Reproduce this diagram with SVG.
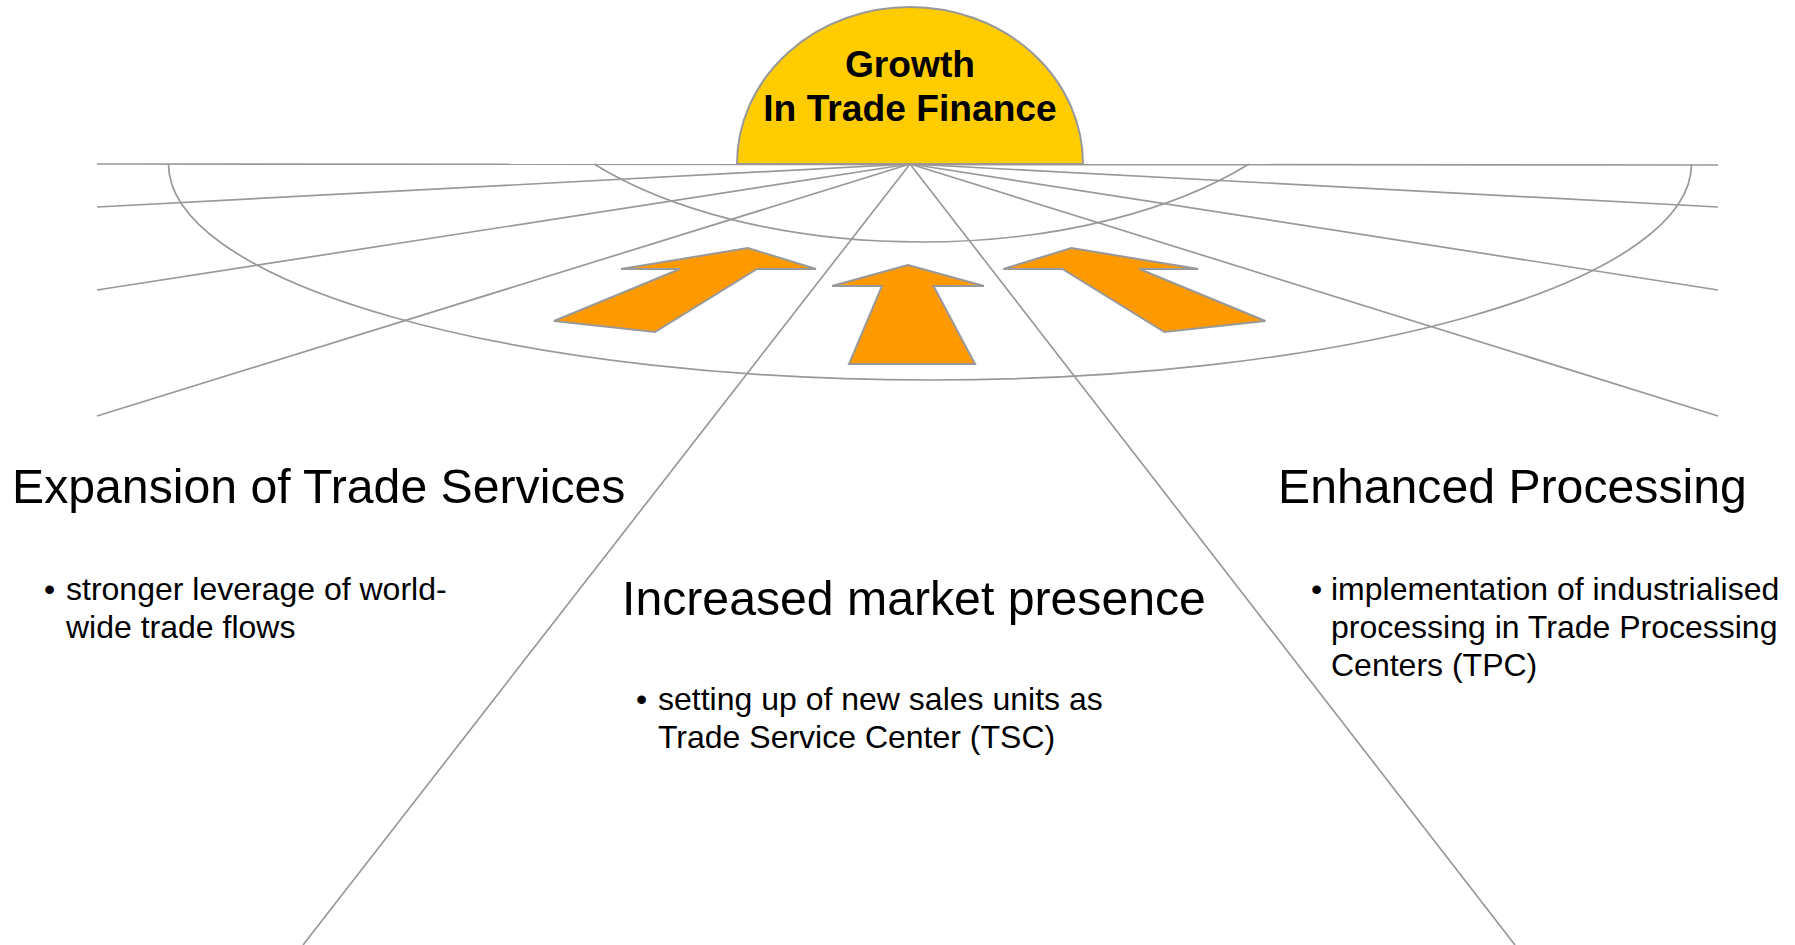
<svg xmlns="http://www.w3.org/2000/svg" width="1795" height="945" viewBox="0 0 1795 945">
<style>
.ln{fill:none;stroke:#999999;stroke-width:1.7}
.arw{fill:#FF9900;stroke:#999999;stroke-width:2;stroke-linejoin:miter}
.title{font-family:"Liberation Sans",Arial,sans-serif;font-size:48.2px;fill:#000}
.body{font-family:"Liberation Sans",Arial,sans-serif;font-size:32px;fill:#000}
.sun{font-family:"Liberation Sans",Arial,sans-serif;font-size:37.2px;font-weight:bold;fill:#000}
</style>
<rect width="1795" height="945" fill="#ffffff"/>
<g id="sun">
<path d="M737,164 A173,157 0 0 1 1083,164 Z" fill="#FFCC00" stroke="#999999" stroke-width="2"/>
<text class="sun" x="910" y="77" text-anchor="middle">Growth</text>
<text class="sun" x="910" y="121" text-anchor="middle">In Trade Finance</text>
</g>
<g id="connectors">
<line class="ln" x1="97" y1="164" x2="1718" y2="165"/>
<line class="ln" x1="910" y1="164" x2="97" y2="207"/>
<line class="ln" x1="910" y1="164" x2="97" y2="290"/>
<line class="ln" x1="910" y1="164" x2="97" y2="416"/>
<line class="ln" x1="910" y1="164" x2="1718" y2="207"/>
<line class="ln" x1="910" y1="164" x2="1718" y2="290"/>
<line class="ln" x1="910" y1="164" x2="1718" y2="416"/>
<line class="ln" x1="910" y1="164" x2="303" y2="945"/>
<line class="ln" x1="910" y1="164" x2="1515" y2="945"/>
<path class="ln" d="M594,164 A420,208.6 0 0 0 1249,164"/>
<path class="ln" d="M168.5,164 A761.5,216 0 0 0 1691.5,164"/>
</g>
<g id="arrow-left">
<polygon class="arw" points="748,248 621,269 680,269 554,321 655,332 757,269 816,269"/>
</g>
<g id="arrow-center">
<polygon class="arw" points="908,265 832,286 882,286 849,364 975,364 933.5,286 984,286"/>
</g>
<g id="arrow-right">
<polygon class="arw" points="1071.4,248 1198.4,269 1139.4,269 1265.4,321 1164.4,332 1062.4,269 1003.4,269"/>
</g>
<g id="expansion">
<text class="title" x="12" y="503">Expansion of Trade Services</text>
<text class="body" x="44" y="600">•</text>
<text class="body" x="66" y="600">stronger leverage of world-</text>
<text class="body" x="66" y="638">wide trade flows</text>
</g>
<g id="market">
<text class="title" x="622" y="615">Increased market presence</text>
<text class="body" x="636" y="710">•</text>
<text class="body" x="658" y="710">setting up of new sales units as</text>
<text class="body" x="658" y="748">Trade Service Center (TSC)</text>
</g>
<g id="processing">
<text class="title" x="1278" y="503">Enhanced Processing</text>
<text class="body" x="1311" y="600">•</text>
<text class="body" x="1331" y="600">implementation of industrialised</text>
<text class="body" x="1331" y="638">processing in Trade Processing</text>
<text class="body" x="1331" y="676">Centers (TPC)</text>
</g>
</svg>
